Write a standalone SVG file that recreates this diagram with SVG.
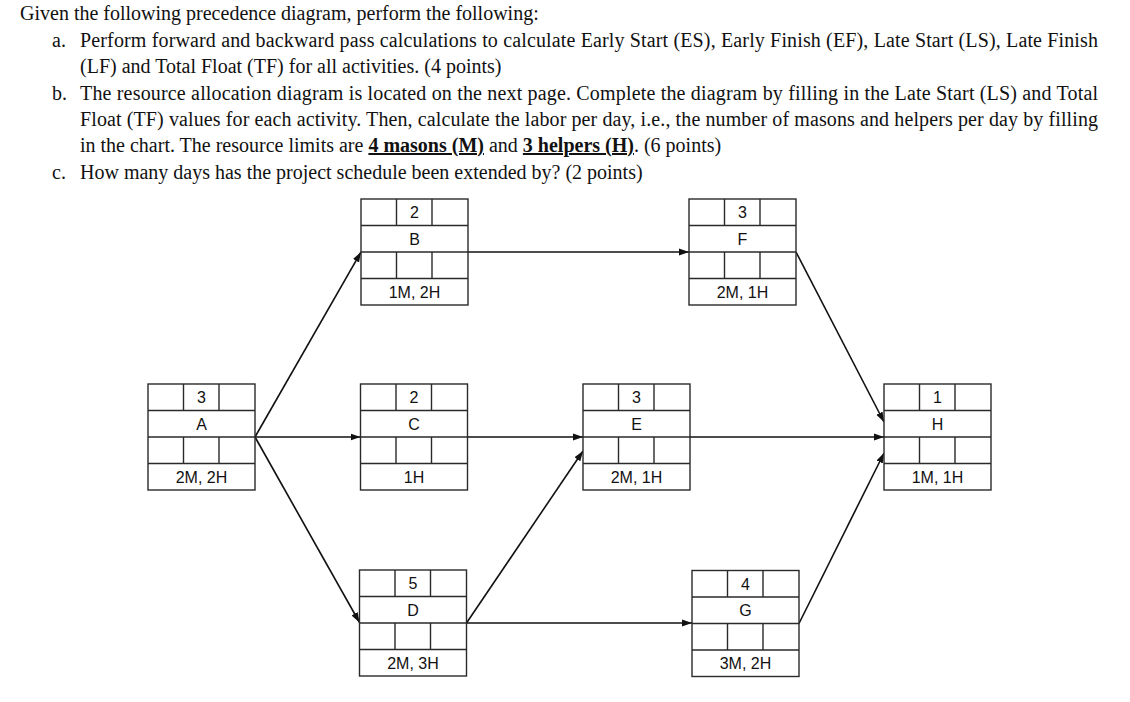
<svg xmlns="http://www.w3.org/2000/svg" width="1130" height="702" viewBox="0 0 1130 702">
<style>
.hd{font-family:"Liberation Serif","Times New Roman",serif;font-size:20px;fill:#111}
.b{font-weight:bold;text-decoration:underline}
.box{fill:#fff;stroke:#2a2a2a;stroke-width:1.4}
.cell{fill:none;stroke:#2a2a2a;stroke-width:1.4}
.lbl{font-family:"Liberation Sans",Arial,sans-serif;font-size:16px;fill:#111;text-anchor:middle}
.conn{fill:none;stroke:#111;stroke-width:1.6}
</style>
<defs>
<marker id="arr" markerUnits="userSpaceOnUse" markerWidth="11" markerHeight="9" refX="10" refY="4.5" orient="auto">
<path d="M0,1 L10,4.5 L0,8 Z" fill="#111"/>
</marker>
<g id="tpl">
<rect class="box" x="0" y="0" width="107" height="106"/>
<path class="cell" d="M0,26.5H107M0,53H107M0,79.5H107M35.5,0V26.5M71,0V26.5M35.5,53V79.5M71,53V79.5"/>
</g>
</defs>
<rect width="1130" height="702" fill="#fff"/>
<g id="header" class="hd">
<text x="20" y="20">Given the following precedence diagram, perform the following:</text>
<text x="52" y="47">a.</text>
<text x="80" y="47" textLength="1018" lengthAdjust="spacing">Perform forward and backward pass calculations to calculate Early Start (ES), Early Finish (EF), Late Start (LS), Late Finish</text>
<text x="80" y="73">(LF) and Total Float (TF) for all activities. (4 points)</text>
<text x="52" y="100">b.</text>
<text x="80" y="100" textLength="1018" lengthAdjust="spacing">The resource allocation diagram is located on the next page. Complete the diagram by filling in the Late Start (LS) and Total</text>
<text x="80" y="126" textLength="1018" lengthAdjust="spacing">Float (TF) values for each activity. Then, calculate the labor per day, i.e., the number of masons and helpers per day by filling</text>
<text x="80" y="152">in the chart. The resource limits are <tspan class="b">4 masons (M)</tspan> and <tspan class="b">3 helpers (H)</tspan>. (6 points)</text>
<text x="52" y="179">c.</text>
<text x="80" y="179">How many days has the project schedule been extended by? (2 points)</text>
</g>
<g id="connectors">
<line class="conn" x1="255" y1="437" x2="361" y2="252" marker-end="url(#arr)"/>
<line class="conn" x1="255" y1="437" x2="360.5" y2="437" marker-end="url(#arr)"/>
<line class="conn" x1="255" y1="437" x2="359.5" y2="622.5" marker-end="url(#arr)"/>
<line class="conn" x1="468" y1="252" x2="689" y2="252" marker-end="url(#arr)"/>
<line class="conn" x1="467.5" y1="437" x2="583" y2="437" marker-end="url(#arr)"/>
<line class="conn" x1="466.5" y1="623" x2="583" y2="451" marker-end="url(#arr)"/>
<line class="conn" x1="466.5" y1="623" x2="692" y2="623" marker-end="url(#arr)"/>
<line class="conn" x1="690" y1="437" x2="884" y2="437" marker-end="url(#arr)"/>
<line class="conn" x1="796" y1="252" x2="884" y2="422" marker-end="url(#arr)"/>
<line class="conn" x1="799" y1="623.5" x2="884" y2="453" marker-end="url(#arr)"/>
</g>
<g id="nodeA" transform="translate(148,384)"><use href="#tpl"/><text class="lbl" x="53.5" y="19">3</text><text class="lbl" x="53.5" y="45.5">A</text><text class="lbl" x="53.5" y="98.5">2M, 2H</text></g>
<g id="nodeB" transform="translate(361,199)"><use href="#tpl"/><text class="lbl" x="53.5" y="19">2</text><text class="lbl" x="53.5" y="45.5">B</text><text class="lbl" x="53.5" y="98.5">1M, 2H</text></g>
<g id="nodeC" transform="translate(360.5,384)"><use href="#tpl"/><text class="lbl" x="53.5" y="19">2</text><text class="lbl" x="53.5" y="45.5">C</text><text class="lbl" x="53.5" y="98.5">1H</text></g>
<g id="nodeD" transform="translate(359.5,570)"><use href="#tpl"/><text class="lbl" x="53.5" y="19">5</text><text class="lbl" x="53.5" y="45.5">D</text><text class="lbl" x="53.5" y="98.5">2M, 3H</text></g>
<g id="nodeE" transform="translate(583,384)"><use href="#tpl"/><text class="lbl" x="53.5" y="19">3</text><text class="lbl" x="53.5" y="45.5">E</text><text class="lbl" x="53.5" y="98.5">2M, 1H</text></g>
<g id="nodeF" transform="translate(689,199)"><use href="#tpl"/><text class="lbl" x="53.5" y="19">3</text><text class="lbl" x="53.5" y="45.5">F</text><text class="lbl" x="53.5" y="98.5">2M, 1H</text></g>
<g id="nodeG" transform="translate(692,570.5)"><use href="#tpl"/><text class="lbl" x="53.5" y="19">4</text><text class="lbl" x="53.5" y="45.5">G</text><text class="lbl" x="53.5" y="98.5">3M, 2H</text></g>
<g id="nodeH" transform="translate(884,384)"><use href="#tpl"/><text class="lbl" x="53.5" y="19">1</text><text class="lbl" x="53.5" y="45.5">H</text><text class="lbl" x="53.5" y="98.5">1M, 1H</text></g>
</svg>
